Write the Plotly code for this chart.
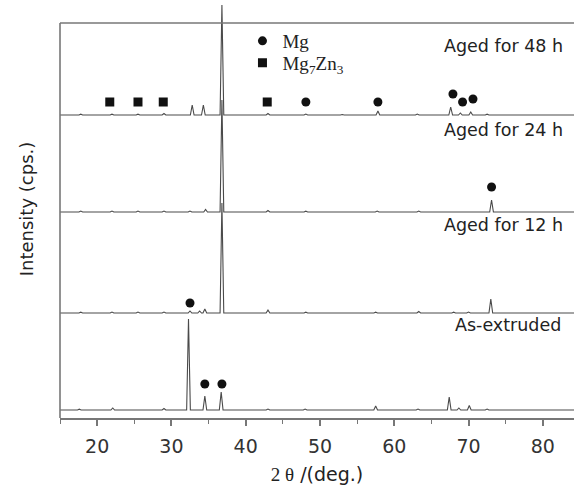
import plotly.graph_objects as go

# ---------------- data ----------------
SERIES = ["As-extruded", "Aged for 12 h", "Aged for 24 h", "Aged for 48 h"]
OFFSETS = [8, 105, 206, 303]          # stacking offset of each pattern (cps.)

AS_EXTRUDED_POS = [17.6, 22.1, 29.0, 32.3, 34.5, 36.7, 43.0, 48.0, 57.5, 63.2, 67.4, 68.7, 70.1, 72.5]
AS_EXTRUDED_INT = [0.8, 2.0, 1.5, 91, 14, 18, 1.0, 1.0, 4.0, 1.0, 13, 2.0, 4.5, 1.0]

AGED12_POS = [17.8, 22.0, 25.5, 29.0, 32.5, 33.8, 34.5, 36.8, 43.0, 48.1, 57.5, 63.3, 68.0, 70.0, 73.0]
AGED12_INT = [0.8, 1.0, 1.0, 1.0, 2.0, 2.0, 4.0, 110, 3.0, 0.8, 0.8, 1.5, 0.8, 1.0, 14]

AGED24_POS = [17.8, 22.0, 25.5, 29.0, 32.5, 34.6, 36.8, 43.0, 48.1, 57.7, 63.3, 73.1]
AGED24_INT = [1.0, 1.0, 1.0, 1.0, 1.0, 2.5, 112, 1.5, 0.8, 1.0, 1.0, 12]

AGED48_POS = [17.8, 22.0, 25.5, 29.0, 32.8, 34.3, 36.8, 43.0, 48.1, 53.0, 57.8, 63.1, 67.6, 68.9, 70.3, 72.5]
AGED48_INT = [0.8, 0.8, 0.8, 1.5, 10, 10, 110, 1.5, 1.0, 0.5, 4.0, 1.0, 8.0, 2.0, 3.0, 0.8]

# phase markers (2theta, height of marker)
MG_X = [48.1, 57.8, 67.9, 69.2, 70.6, 73.1, 32.5, 34.5, 36.8]
MG_Y = [316, 316, 324, 316, 319, 231, 115, 34, 34]
MG7ZN3_X = [21.7, 25.5, 28.9, 42.9]
MG7ZN3_Y = [316, 316, 316, 316]

X_TICKS = [20, 30, 40, 50, 60, 70, 80]

PEAKS = [
    (AS_EXTRUDED_POS, AS_EXTRUDED_INT),
    (AGED12_POS, AGED12_INT),
    (AGED24_POS, AGED24_INT),
    (AGED48_POS, AGED48_INT),
]

# ---------------- figure ----------------
W, H = 574, 489
ML, MB, MT = 60, 71, 0
PLOT_H = H - MB - MT          # 418
Y_TOP = 395                   # where the frame top sits (in y units)
HALF_W = 0.25


def profile(pos, inten, off):
    xs, ys = [15.0], [off]
    for p, h in sorted(zip(pos, inten)):
        xs += [p - HALF_W, p, p + HALF_W]
        ys += [off, off + h, off]
    xs.append(85.0)
    ys.append(off)
    return xs, ys


fig = go.Figure()
for name, (pos, inten), off in zip(SERIES, PEAKS, OFFSETS):
    xs, ys = profile(pos, inten, off)
    fig.add_trace(go.Scatter(x=xs, y=ys, mode="lines", name=name, showlegend=False,
                             line=dict(color="#4a4a4a", width=1.1), hoverinfo="skip"))

fig.add_trace(go.Scatter(x=MG_X, y=MG_Y, mode="markers", name="Mg", legend="legend",
                         marker=dict(symbol="circle", size=9, color="#111")))
fig.add_trace(go.Scatter(x=MG7ZN3_X, y=MG7ZN3_Y, mode="markers", name="Mg<sub>7</sub>Zn<sub>3</sub>",
                         legend="legend2",
                         marker=dict(symbol="square", size=9, color="#111")))

# series labels
LABEL_Y = [93, 193, 288, 372]
LABEL_X = [453, 442, 442, 442]
for name, ly, lx in zip(SERIES, LABEL_Y, LABEL_X):
    fig.add_annotation(x=(lx - ML) / (W - ML), xref="paper", y=ly, yref="y",
                       text=name, showarrow=False, xanchor="left", yanchor="middle",
                       font=dict(family="DejaVu Sans", size=17.5, color="#222"))

# frame lines (left and top)
fig.add_shape(type="line", xref="paper", yref="paper", x0=0, x1=0, y0=0, y1=Y_TOP / PLOT_H,
              line=dict(color="#777", width=1.6))
fig.add_shape(type="line", xref="paper", yref="paper", x0=0, x1=1.02, y0=Y_TOP / PLOT_H, y1=Y_TOP / PLOT_H,
              line=dict(color="#777", width=1.6))

LEG_FONT = dict(family="Liberation Serif", size=19, color="#222")
fig.update_layout(
    width=W, height=H,
    margin=dict(l=ML, r=0, t=MT, b=MB, autoexpand=False),
    paper_bgcolor="white", plot_bgcolor="white",
    showlegend=True,
    legend=dict(x=0.355, xanchor="left", y=(PLOT_H - 41) / PLOT_H, yanchor="middle",
                bgcolor="rgba(0,0,0,0)", font=LEG_FONT, itemwidth=30),
    legend2=dict(x=0.355, xanchor="left", y=(PLOT_H - 63) / PLOT_H, yanchor="middle",
                 bgcolor="rgba(0,0,0,0)", font=LEG_FONT, itemwidth=30),
    xaxis=dict(range=[15, 84.2], showgrid=False, zeroline=False,
               showline=True, linecolor="#777", linewidth=1.6,
               ticks="outside", ticklen=6, tickwidth=1.5, tickcolor="#777",
               tickvals=X_TICKS, ticklabelstandoff=4,
               minor=dict(ticks="outside", ticklen=4, tickwidth=1.3, tickcolor="#777", dtick=5, tick0=15),
               tickfont=dict(family="DejaVu Sans", size=19, color="#333"),
               title=dict(text="<span style='font-family:Liberation Serif'>2 θ</span> /(deg.)",
                          font=dict(family="DejaVu Sans", size=19, color="#222"), standoff=12)),
    yaxis=dict(range=[0, PLOT_H], showgrid=False, zeroline=False, showline=False,
               showticklabels=False, ticks="",
               title=dict(text="Intensity (cps.)", font=dict(family="DejaVu Sans", size=18, color="#222"),
                          standoff=20)),
)

fig.write_html("out.html", config={"displayModeBar": False},
               post_script="document.body.style.margin='0';")
